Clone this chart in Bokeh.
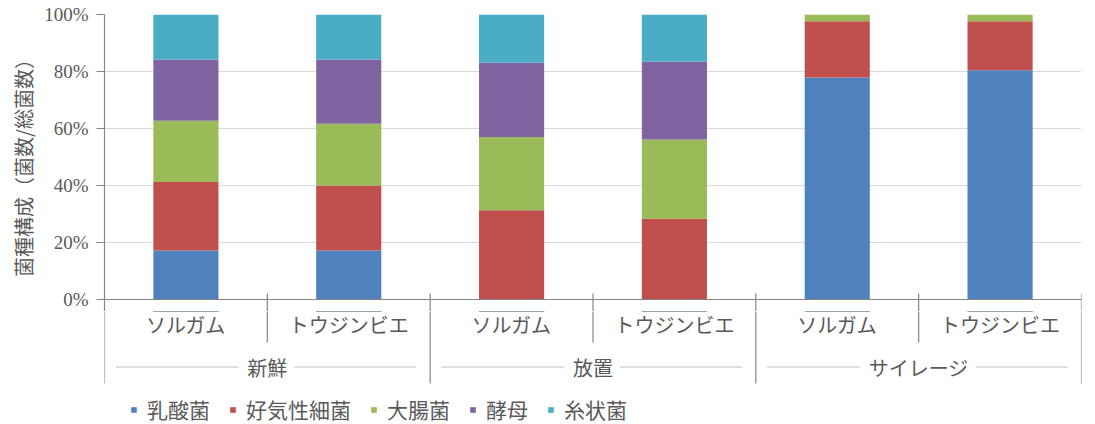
from bokeh.plotting import figure
from bokeh.layouts import column
from bokeh.models import (ColumnDataSource, Range1d, FixedTicker, PrintfTickFormatter,
                          Legend, LegendItem)
from bokeh.core.properties import value
from bokeh.embed import file_html
from bokeh.resources import INLINE

# ---- data ----
groups = ["新鮮", "放置", "サイレージ"]
crops = ["ソルガム", "トウジンビエ"]
series = ["乳酸菌", "好気性細菌", "大腸菌", "酵母", "糸状菌"]
lactic = [17.2, 17.2, 0.0, 0.0, 77.9, 80.4]
aerobic = [24.0, 22.8, 31.3, 28.3, 19.7, 17.2]
coliform = [21.5, 21.7, 25.7, 27.8, 2.4, 2.4]
yeast = [21.5, 22.5, 26.1, 27.3, 0.0, 0.0]
mold = [15.8, 15.8, 16.9, 16.6, 0.0, 0.0]
y_ticks = [0, 20, 40, 60, 80, 100]
y_title = "菌種構成（菌数/総菌数）"

colors = ["#4F81BD", "#C0504D", "#9BBB59", "#8064A2", "#4BACC6"]
JP = "Noto Sans CJK JP"
TXT = "#595959"
AX = "#868686"

n_bars = len(groups) * len(crops)
xs = [i + 0.5 for i in range(n_bars)]
cat_labels = [c for g in groups for c in crops]

src = ColumnDataSource(dict(x=xs, s0=lactic, s1=aerobic, s2=coliform, s3=yeast, s4=mold))
keys = ["s0", "s1", "s2", "s3", "s4"]

PX = 2.85      # px per % unit in the bar panel
unit = 162.8   # px per category
CUT = 12       # px below the zero line where the top panel ends
xr = Range1d(0, n_bars)

# ---------------- top: bars ----------------
p = figure(width=1095, height=299 + CUT, x_range=xr, y_range=Range1d(-CUT / PX, 100),
           x_axis_location=None, output_backend="svg", toolbar_location=None,
           min_border_left=104, min_border_right=14, min_border_top=14, min_border_bottom=0)
p.outline_line_color = None
p.xgrid.visible = False
p.ygrid.ticker = FixedTicker(ticks=y_ticks[1:])
p.ygrid.grid_line_color = "#d9d9d9"
p.ygrid.grid_line_width = 1

yax = p.yaxis[0]
yax.ticker = FixedTicker(ticks=y_ticks)
yax.formatter = PrintfTickFormatter(format="%d%%")
yax.axis_line_color = AX
yax.axis_line_width = 1.2
yax.major_tick_in = 0
yax.major_tick_out = 8
yax.major_tick_line_color = AX
yax.minor_tick_line_color = None
yax.major_label_standoff = 8
yax.major_label_text_font = "Liberation Serif"
yax.major_label_text_font_size = "19px"
yax.major_label_text_color = TXT
yax.axis_label = y_title
yax.axis_label_text_font = JP
yax.axis_label_text_font_size = "20px"
yax.axis_label_text_font_style = "normal"
yax.axis_label_text_color = TXT
yax.axis_label_standoff = 3

rs = p.vbar_stack(keys, x="x", width=0.4, color=colors, line_color=None, source=src)

p.segment(x0=[0], y0=[0], x1=[n_bars], y1=[0], line_color=AX, line_width=1.2)

inner_x = [2 * g + 1 for g in range(len(groups))]
group_x = [2 * g + 2 for g in range(len(groups))]
sep_x = inner_x + group_x
p.segment(x0=sep_x, y0=[6 / PX] * len(sep_x), x1=sep_x, y1=[-CUT / PX] * len(sep_x),
          line_color=AX, line_width=1.2)

# ---------------- bottom: category labels + legend ----------------
q = figure(width=1095, height=125 - CUT, x_range=xr, y_range=Range1d(-125, -CUT),
           x_axis_location=None, y_axis_location=None, output_backend="svg",
           toolbar_location=None, min_border_left=104, min_border_right=14,
           min_border_top=0, min_border_bottom=0)
q.outline_line_color = None
q.xgrid.visible = False
q.ygrid.visible = False

gx = [0] + group_x
q.segment(x0=inner_x, y0=[-CUT] * len(inner_x), x1=inner_x, y1=[-43] * len(inner_x),
          line_color=AX, line_width=1.2)
q.segment(x0=gx, y0=[-CUT] * len(gx), x1=gx, y1=[-84] * len(gx),
          line_color=AX, line_width=1.2)

q.text(x=xs, y=[-25] * n_bars, text=cat_labels, text_font=value(JP), text_font_size="20px",
       text_color=TXT, text_align="center", text_baseline="middle")
g_centers = [2 * g + 1 for g in range(len(groups))]
g_y = -67.5
q.text(x=g_centers, y=[g_y] * len(groups), text=groups, text_font=value(JP), text_font_size="20px",
       text_color=TXT, text_align="center", text_baseline="middle")

x0s, x1s = [], []
for g, name in enumerate(groups):
    half = len(name) * 20 / 2 / unit
    c = 2 * g + 1
    x0s += [2 * g + 11 / unit, c + half + 7 / unit]
    x1s += [c - half - 9 / unit, 2 * g + 2 - 14 / unit]
q.segment(x0=x0s, y0=[g_y] * len(x0s), x1=x1s, y1=[g_y] * len(x1s), line_color="#bfbfbf", line_width=1)

# legend renderers (bars sit above this panel's range, so only the legend shows them)
lr = q.vbar_stack(keys, x="x", width=0.4, color=colors, line_color=None, source=src)
legend = Legend(items=[LegendItem(label=s, renderers=[r]) for s, r in zip(series, lr)],
                location=(26, 0), orientation="horizontal", glyph_width=7, glyph_height=7,
                label_standoff=10, spacing=19, padding=0, margin=0,
                border_line_color=None, background_fill_alpha=0,
                label_text_font=JP, label_text_font_size="21px", label_text_color=TXT)
q.add_layout(legend)

open("out.html", "w").write(file_html(column(p, q, spacing=0), INLINE))
